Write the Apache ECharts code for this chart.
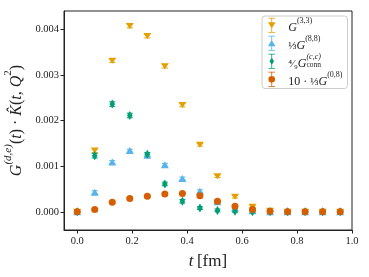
<!DOCTYPE html>
<html><head><meta charset="utf-8">
<script src="https://cdn.jsdelivr.net/npm/echarts@6/dist/echarts.min.js"></script>
<style>html,body{margin:0;padding:0;background:#fff}#c{width:369px;height:277px}</style>
</head><body><div id="c"></div>
<script>
const tValues = [0.0, 0.0638, 0.1276, 0.1914, 0.2552, 0.319, 0.3828, 0.4466, 0.5104, 0.5742, 0.638, 0.7018, 0.7656, 0.8294, 0.8932, 0.957];
const g33 = [0.0, 0.00134, 0.00331, 0.00407, 0.00385, 0.00319, 0.00234, 0.00147, 0.00078, 0.00033, 0.00011, 0.00002, 0.0, 0.0, 0.0, 0.0];
const g88 = [0.0, 0.00043, 0.00109, 0.00134, 0.00124, 0.00103, 0.00073, 0.00045, 0.00022, 0.00008, 0.00002, 0.0, 0.0, 0.0, 0.0, 0.0];
const gcc = [0.0, 0.00123, 0.00236, 0.00211, 0.00126, 0.00061, 0.00023, 0.00008, 0.00003, 0.00001, 0.0, 0.0, 0.0, 0.0, 0.0, 0.0];
const g08 = [0.0, 0.00005, 0.00021, 0.00029, 0.00034, 0.00039, 0.0004, 0.00035, 0.00023, 0.00012, 0.00005, 0.00001, 0.0, 0.0, 0.0, 0.0];
const errG33 = [0.00001, 0.00004, 0.00004, 0.00004, 0.00004, 0.00004, 0.00004, 0.00003, 0.00003, 0.00003, 0.00002, 0.00001, 0.00001, 0.00001, 0.00001, 0.00001];
const errG88 = [0.00001, 0.00003, 0.00003, 0.00003, 0.00003, 0.00003, 0.00003, 0.00003, 0.00002, 0.00002, 0.00001, 0.00001, 0.00001, 0.00001, 0.00001, 0.00001];
const errGcc = [0.00001, 0.00005, 0.00005, 0.00005, 0.00004, 0.00004, 0.00004, 0.00003, 0.00003, 0.00002, 0.00002, 0.00001, 0.00001, 0.00001, 0.00001, 0.00001];
const errG08 = [0.00001, 0.00002, 0.00002, 0.00002, 0.00002, 0.00002, 0.00002, 0.00002, 0.00002, 0.00002, 0.00001, 0.00001, 0.00001, 0.00001, 0.00001, 0.00001];
const xTicks = [0, 0.2, 0.4, 0.6, 0.8, 1.0];
const yTicks = [0, 0.001, 0.002, 0.003, 0.004];
const seriesNames = ['g33', 'g88', 'gcc', 'g08'];

const colors = {g33:'#E69F00', g88:'#56B4E9', gcc:'#009E73', g08:'#D55E00'};
const serif = '"Liberation Serif", "DejaVu Serif", serif';

function pts(vals, errs){ return tValues.map((t,i)=>[t, vals[i], errs ? errs[i] : 0]); }

function errSeries(vals, errs, color){
  return {
    type:'custom', silent:true, data: pts(vals, errs),
    encode:{x:0, y:1},
    renderItem(params, api){
      const x = api.value(0), y = api.value(1), e = api.value(2);
      const a = api.coord([x, y + e]), b = api.coord([x, y - e]);
      const c = 3;
      const st = {stroke: color, lineWidth: 1};
      return {type:'group', children:[
        {type:'line', shape:{x1:a[0], y1:a[1], x2:b[0], y2:b[1]}, style:st},
        {type:'line', shape:{x1:a[0]-c, y1:a[1], x2:a[0]+c, y2:a[1]}, style:st},
        {type:'line', shape:{x1:b[0]-c, y1:b[1], x2:b[0]+c, y2:b[1]}, style:st}
      ]};
    }
  };
}

function barIcon(marker){
  return 'path://M6,1 H14 V2 H6 Z M9.5,1 H10.5 V19 H9.5 Z M6,18 H14 V19 H6 Z ' + marker;
}
const icons = {
  g33: barIcon('M5.5,6.5 H14.5 L10,14 Z'),
  g88: barIcon('M10,6 L14.5,13.5 H5.5 Z'),
  gcc: barIcon('M10,5.5 L12.7,10 L10,14.5 L7.3,10 Z'),
  g08: barIcon('M10,6 A4,4 0 1 1 9.99,6 Z')
};

const chart = echarts.init(document.getElementById('c'), null, {renderer:'canvas'});
const rich = {
  i:{fontFamily:serif, fontStyle:'italic', fontSize:12, lineHeight:16.5, verticalAlign:'bottom', color:'#222'},
  r:{fontFamily:serif, fontSize:12, lineHeight:16.5, verticalAlign:'bottom', color:'#222'},
  sup:{fontFamily:serif, fontSize:8, verticalAlign:'top', lineHeight:16.5, color:'#222'},
  supw:{fontFamily:serif, fontStyle:'italic', fontSize:8, verticalAlign:'top', lineHeight:16.5, width:0, color:'#222'},
  sub:{fontFamily:serif, fontSize:7.5, verticalAlign:'bottom', lineHeight:15, color:'#222'},
  fr:{fontFamily:serif, fontSize:11, lineHeight:16.5, verticalAlign:'bottom', color:'#222'}
};
const legendText = {
  g33:'{i|G}{sup|(3,3)}',
  g88:'{fr|⅓}{i|G}{sup|(8,8)}',
  gcc:'{fr|⁴⁄₉}{i|G}{supw|(c,c)}{sub|conn}',
  g08:'{r|10 · }{fr|⅓}{i|G}{sup|(0,8)}'
};

const series = [];
seriesNames.forEach(n=>{
  const vals = {g33, g88, gcc, g08}[n];
  const errs = {g33:errG33, g88:errG88, gcc:errGcc, g08:errG08}[n];
  series.push(errSeries(vals, errs, colors[n]));
  const sym = {g33:'triangle', g88:'triangle', gcc:'diamond', g08:'circle'}[n];
  const size = {g33:[8,6], g88:[8,7], gcc:[5.5,9], g08:[7,7]}[n];
  series.push({
    name:n, type:'scatter', data: pts(vals), symbol: sym, symbolSize: size,
    symbolRotate: n === 'g33' ? 180 : 0,
    itemStyle:{color: colors[n], opacity:1}, encode:{x:0, y:1}
  });
});

chart.setOption({
  animation:false,
  grid:{left:64, right:17, top:11, bottom:47, show:true, borderColor:'#222', borderWidth:1, outerBoundsMode:'none', containLabel:false},
  xAxis:{
    type:'value', min:-0.048, max:1.0,
    axisLine:{show:true, onZero:false, lineStyle:{color:'#222', width:1}},
    axisTick:{show:true, length:3.5, customValues:xTicks, lineStyle:{color:'#222'}},
    axisLabel:{customValues:xTicks, fontFamily:serif, fontSize:10.5, color:'#222', margin:6,
      formatter:v=>v.toFixed(1)},
    splitLine:{show:false},
    name:'{i|t} {r|[fm]}', nameLocation:'middle', nameGap:23,
    nameTextStyle:{rich:{i:{fontFamily:serif, fontStyle:'italic', fontSize:17, color:'#222'}, r:{fontFamily:serif, fontSize:17, color:'#222'}}}
  },
  yAxis:{
    type:'value', min:-0.0004, max:0.0044,
    axisLine:{show:true, onZero:false, lineStyle:{color:'#222', width:1}},
    axisTick:{show:true, length:3.5, customValues:yTicks, lineStyle:{color:'#222'}},
    axisLabel:{customValues:yTicks, fontFamily:serif, fontSize:10.5, color:'#222', margin:5,
      formatter:v=>v.toFixed(3)},
    splitLine:{show:false},
    name:'{i|G}{s|(d,e)}{r|(}{i|t}{r|) · }{i|K̂}{r|(}{i|t}{r|, }{i|Q}{s2|2}{r|)}', nameLocation:'middle', nameGap:36, nameRotate:90,
    nameTextStyle:{rich:{
      i:{fontFamily:serif, fontStyle:'italic', fontSize:16, color:'#222', lineHeight:22, verticalAlign:'bottom'},
      r:{fontFamily:serif, fontSize:16, color:'#222', lineHeight:22, verticalAlign:'bottom'},
      s:{fontFamily:serif, fontStyle:'italic', fontSize:11, color:'#222', lineHeight:22, verticalAlign:'top'},
      s2:{fontFamily:serif, fontSize:11, color:'#222', lineHeight:22, verticalAlign:'top'}
    }}
  },
  legend:{
    orient:'vertical', left:262, top:16, padding:[1,5,1,6], itemGap:1.5,
    itemWidth:15, itemHeight:15, backgroundColor:'rgba(255,255,255,0.85)',
    borderColor:'#ccc', borderWidth:1, borderRadius:3,
    data: seriesNames.map(n=>({name:n, icon:icons[n], itemStyle:{color:colors[n]}})),
    formatter: n => legendText[n],
    textStyle:{color:'#222', rich: rich, padding:[0,0,0,4]}
  },
  series: series
});
</script></body></html>
